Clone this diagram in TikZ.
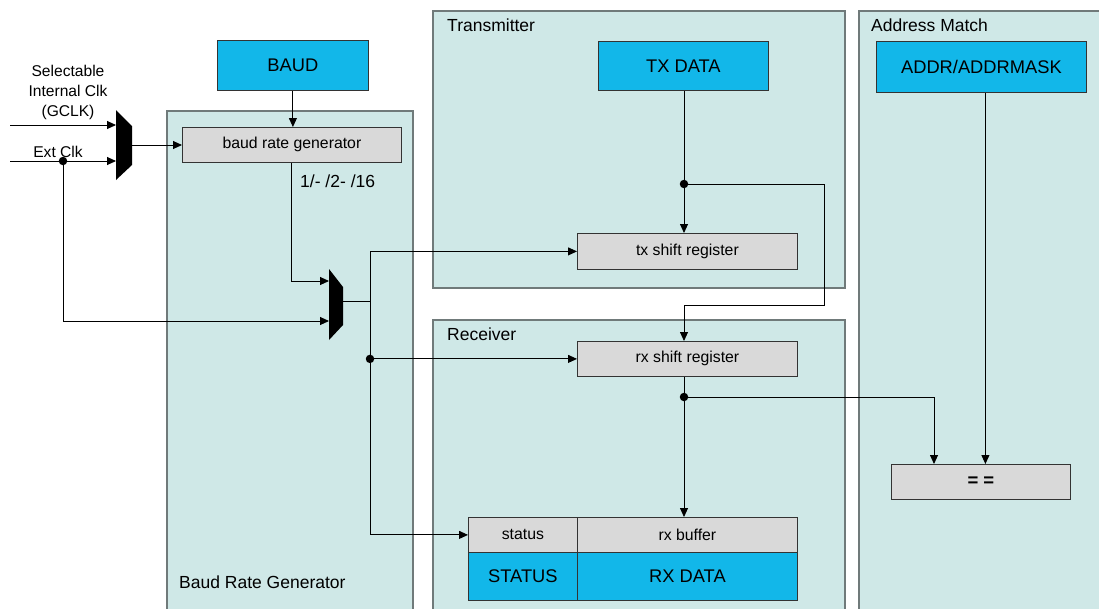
\documentclass[tikz,border=0pt]{standalone}
\usepackage{fontspec}
\setmainfont{Liberation Sans}
\usetikzlibrary{arrows.meta}

\definecolor{panelfill}{HTML}{CFE8E7}
\definecolor{panelline}{HTML}{707A7A}
\definecolor{regfill}{HTML}{D9D9D9}
\definecolor{datafill}{HTML}{12B7E9}

\tikzset{
  panel/.style={draw=panelline, fill=panelfill, line width=1.2pt},
  title/.style={anchor=west, inner sep=0pt, font=\fontsize{17.5}{20}\selectfont},
  reg/.style={draw=black!80, fill=regfill, line width=0.8pt, anchor=north west, inner sep=0pt, font=\fontsize{15.8}{18}\selectfont},
  data/.style={draw=black!80, fill=datafill, line width=0.8pt, anchor=north west, inner sep=0pt, font=\fontsize{18.3}{20}\selectfont},
  wire/.style={line width=0.9pt, -{Triangle[length=9pt,width=8pt]}},
  dot/.style={circle, fill, inner sep=0pt, minimum size=8.5pt}
}

\begin{document}
\begin{tikzpicture}[x=1pt, y=-1pt]
        \useasboundingbox (0,0) rectangle (1099,608);
        \clip (0,0) rectangle (1099,608);

        % panels
        \draw[panel] (167,111) rectangle (413,620);
        \draw[panel] (433,11) rectangle (845,288);
        \draw[panel] (433,320) rectangle (845,620);
        \draw[panel] (859,11) rectangle (1110,620);
        \node[title] (tbrg) at (179,582) {Baud Rate Generator};
        \node[title] (ttx) at (447,25) {Transmitter};
        \node[title] (trx) at (447,334) {Receiver};
        \node[title] (tam) at (871,25) {Address Match};

        % boxes
        \node[data, minimum width=151pt, minimum height=50pt] (baud) at (217,40) {BAUD};
        \node[reg, minimum width=219pt, minimum height=35pt] (brg) at (182,127) {baud rate generator};
        \node[data, minimum width=170pt, minimum height=49pt] (txd) at (598,41) {TX DATA};
        \node[reg, minimum width=220pt, minimum height=36pt] (txsr) at (577,233) {tx shift register};
        \node[reg, minimum width=220pt, minimum height=35pt] (rxsr) at (577,341) {rx shift register};
        \node[reg, minimum width=109pt, minimum height=35pt] (stat) at (468,517) {status};
        \node[reg, minimum width=220pt, minimum height=35pt] (rxbuf) at (577,517) {rx buffer};
        \node[data, minimum width=109pt, minimum height=48pt] (statd) at (468,552) {STATUS};
        \node[data, minimum width=220pt, minimum height=48pt] (rxdata) at (577,552) {RX DATA};
        \node[data, minimum width=210pt, minimum height=51pt] (addr) at (876,41) {ADDR/ADDRMASK};
        \node[reg, minimum width=179pt, minimum height=35pt, font=\fontsize{18.5}{20}\selectfont\bfseries] (eq) at (891,464) {= =};

        % muxes
        \fill (116,110) -- (132,126) -- (132,165) -- (116,180) -- cycle;
        \fill (329,269) -- (343,287) -- (343,325) -- (329,340) -- cycle;
        \coordinate (m1a) at (116,125);
        \coordinate (m1b) at (116,161);
        \coordinate (m1o) at (132,145);
        \coordinate (m2a) at (329,281);
        \coordinate (m2b) at (329,321);
        \coordinate (m2o) at (343,301);

        % clock inputs
        \node[align=center, inner sep=0pt, font=\fontsize{15.6}{20}\selectfont] (gclk) at (68,92) {Selectable\\Internal Clk\\(GCLK)};
        \node[inner sep=0pt, font=\fontsize{15.6}{18}\selectfont] (extclk) at (58,152) {Ext Clk};
        \coordinate (gin) at (10,125);
        \coordinate (ein) at (10,161);
        \node[dot] (edot) at (63,161) {};
        \node[inner sep=0pt, anchor=west, font=\fontsize{17.5}{18}\selectfont] (div) at (300,181) {1/- /2- /16};

        % wires
        \draw[wire] (gin) -- (m1a);
        \draw[wire] (ein) -- (m1b);
        \draw[wire] (m1o) -- (brg.west |- m1o);
        \draw[wire] (baud.south) -- (baud.south |- brg.north);
        \draw[wire] (brg.south) |- (m2a);
        \draw[wire] (edot) |- (m2b);
        \coordinate (split) at (370,301);
        \draw[line width=0.9pt] (m2o) -- (split);
        \draw[wire] (split) |- (txsr.west);
        \draw[wire] (split) |- (stat.west);
        \node[dot] (rxin) at (split |- rxsr.west) {};
        \draw[wire] (rxin) -- (rxsr.west);

        \node[dot] (txdot) at (684,184) {};
        \draw[line width=0.9pt] (txdot |- txd.south) -- (txdot);
        \draw[wire] (txdot) -- (txdot |- txsr.north);
        \coordinate (loop) at (824,305);
        \draw[wire] (txdot) -| (loop) -| (txdot |- rxsr.north);

        \node[dot] (rxdot) at (684,397) {};
        \draw[line width=0.9pt] (rxdot |- rxsr.south) -- (rxdot);
        \draw[wire] (rxdot) -- (rxdot |- rxbuf.north);
        \coordinate (cmp) at (934,464);
        \draw[wire] (rxdot) -| (cmp);
        \draw[wire] ([xshift=4pt]addr.south) -- ([xshift=4pt]addr.south |- eq.north);
\end{tikzpicture}
\end{document}
